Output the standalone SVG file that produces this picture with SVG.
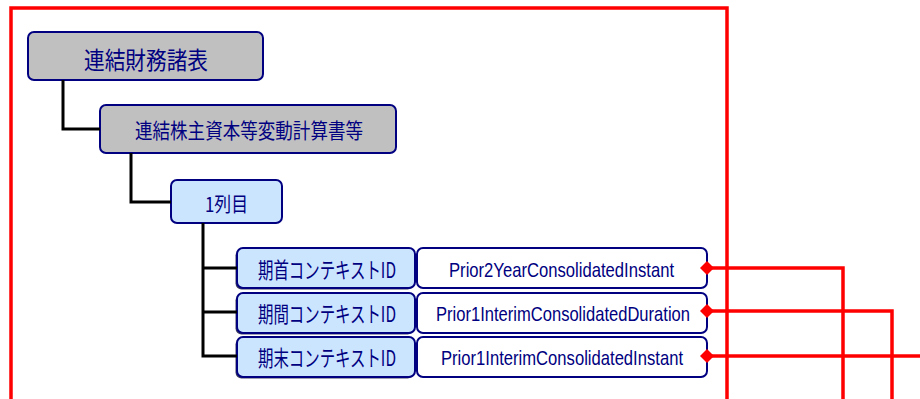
<svg xmlns="http://www.w3.org/2000/svg" width="920" height="399" viewBox="0 0 920 399">
<style>
.gray{fill:#c0c0c0;stroke:#000080;stroke-width:2}
.blue{fill:#cce5ff;stroke:#000080;stroke-width:2}
.white{fill:#ffffff;stroke:#000080;stroke-width:2}
.shadow{fill:#404060}
.jp{font-family:"Noto Sans CJK JP","Noto Sans",sans-serif;fill:#000080;text-anchor:middle;dominant-baseline:central}
.en{font-family:"Liberation Sans","Noto Sans",sans-serif;fill:#000080;text-anchor:middle;dominant-baseline:central}
.tree{fill:none;stroke:#000000;stroke-width:3}
.red{fill:none;stroke:#ff0000;stroke-width:3.5}
.dia{fill:#ff0000}
</style>
<defs>
<path id="dia" class="dia" d="M-7,0 L0,-7 L7,0 L0,7 Z"/>
</defs>
<path class="red" d="M11,399 V8 H727 V399"/>
<g id="n1">
<rect class="gray" x="28" y="32" width="235" height="48" rx="6"/>
<text class="jp" x="146" y="58" font-size="24" textLength="124" lengthAdjust="spacingAndGlyphs">連結財務諸表</text>
</g>
<g id="n2">
<rect class="gray" x="100" y="105" width="296" height="48" rx="6"/>
<text class="jp" x="249" y="129" font-size="21" textLength="228" lengthAdjust="spacingAndGlyphs">連結株主資本等変動計算書等</text>
</g>
<g id="n3">
<rect class="blue" x="171" y="180" width="111" height="43" rx="6"/>
<text class="jp" x="226.5" y="203" font-size="20" textLength="43" lengthAdjust="spacingAndGlyphs">1列目</text>
</g>
<g id="r1">
<rect class="shadow" x="235.5" y="249.5" width="178" height="40" rx="6"/>
<rect class="blue" x="237" y="248" width="178" height="40" rx="6"/>
<text class="jp" x="327" y="268" font-size="22" textLength="138" lengthAdjust="spacingAndGlyphs">期首コンテキストID</text>
<rect class="white" x="417" y="248" width="290" height="40" rx="6"/>
<text class="en" x="561.5" y="269" font-size="21" textLength="225" lengthAdjust="spacingAndGlyphs">Prior2YearConsolidatedInstant</text>
</g>
<g id="r2">
<rect class="shadow" x="235.5" y="294.5" width="178" height="40" rx="6"/>
<rect class="blue" x="237" y="293" width="178" height="40" rx="6"/>
<text class="jp" x="327" y="312" font-size="22" textLength="138" lengthAdjust="spacingAndGlyphs">期間コンテキストID</text>
<rect class="white" x="417" y="293" width="290" height="40" rx="6"/>
<text class="en" x="563" y="313" font-size="21" textLength="254" lengthAdjust="spacingAndGlyphs">Prior1InterimConsolidatedDuration</text>
</g>
<g id="r3">
<rect class="shadow" x="235.5" y="338.5" width="178" height="40" rx="6"/>
<rect class="blue" x="237" y="337" width="178" height="40" rx="6"/>
<text class="jp" x="327" y="356" font-size="22" textLength="138" lengthAdjust="spacingAndGlyphs">期末コンテキストID</text>
<rect class="white" x="417" y="337" width="290" height="40" rx="6"/>
<text class="en" x="562" y="357" font-size="21" textLength="242" lengthAdjust="spacingAndGlyphs">Prior1InterimConsolidatedInstant</text>
</g>
<g id="connectors">
<path class="tree" d="M63,80 V129 H100"/>
<path class="tree" d="M131,153 V202 H171"/>
<path class="tree" d="M203,223 V356 H237 M203,268 H237 M203,312 H237"/>
<path class="red" d="M707,268 H843 V399"/>
<path class="red" d="M707,311 H892 V399"/>
<path class="red" d="M707,356 H920"/>
<use href="#dia" x="707" y="268"/>
<use href="#dia" x="707" y="311"/>
<use href="#dia" x="707" y="356"/>
</g>
</svg>
